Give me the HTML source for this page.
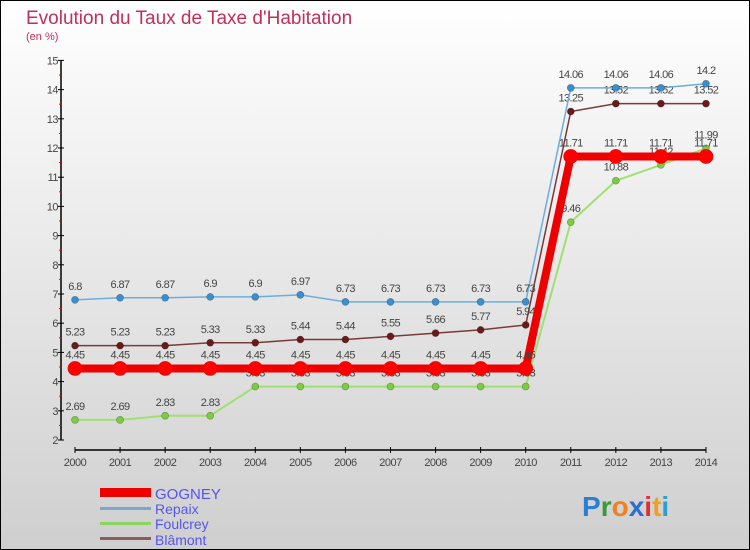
<!DOCTYPE html>
<html><head><meta charset="utf-8"><style>
body{margin:0}
svg{display:block;font-family:"Liberation Sans",sans-serif}
</style></head><body>
<svg id="c" width="750" height="550">
<defs><linearGradient id="bg" x1="0" y1="0" x2="0" y2="1"><stop offset="0" stop-color="#ffffff"/><stop offset="1" stop-color="#cfcfcf"/></linearGradient></defs>
<rect x="0.5" y="0.5" width="749" height="549" fill="url(#bg)" stroke="#000"/>
<text x="26" y="24" font-size="19" fill="#c0305a">Evolution du Taux de Taxe d'Habitation</text>
<text x="26" y="40" font-size="11" fill="#c0305a">(en %)</text>
<g id="axes"></g><g id="series"></g>
<g>
<rect x="100" y="488" width="51" height="9" fill="#e00"/>
<text x="155" y="499" font-size="15" fill="#5555ee">GOGNEY</text>
<rect x="100" y="507" width="51" height="3" fill="#7aa7cc"/>
<text x="155" y="514" font-size="14" fill="#5555ee">Repaix</text>
<rect x="100" y="522" width="51" height="3" fill="#8fd460"/>
<text x="155" y="529" font-size="14" fill="#5555ee">Foulcrey</text>
<rect x="100" y="537" width="51" height="3" fill="#8a5c5c"/>
<text x="155" y="545" font-size="14" fill="#5555ee">Blâmont</text>
</g>
<text x="582" y="516" font-size="28" font-weight="bold"><tspan fill="#2a7fd0">P</tspan><tspan fill="#3a9a3a">r</tspan><tspan fill="#f08020">o</tspan><tspan fill="#2a6fd0">x</tspan><tspan fill="#e03030">i</tspan><tspan fill="#f0a020">t</tspan><tspan fill="#2a9fd0">i</tspan></text>
</svg>
<script>
const years=["2000","2001","2002","2003","2004","2005","2006","2007","2008","2009","2010","2011","2012","2013","2014"];
const yTicks=[2,3,4,5,6,7,8,9,10,11,12,13,14,15];
const gogney=[4.45,4.45,4.45,4.45,4.45,4.45,4.45,4.45,4.45,4.45,4.45,11.71,11.71,11.71,11.71];
const repaix=[6.8,6.87,6.87,6.9,6.9,6.97,6.73,6.73,6.73,6.73,6.73,14.06,14.06,14.06,14.2];
const foulcrey=[2.69,2.69,2.83,2.83,3.83,3.83,3.83,3.83,3.83,3.83,3.83,9.46,10.88,11.42,11.99];
const blamont=[5.23,5.23,5.23,5.33,5.33,5.44,5.44,5.55,5.66,5.77,5.94,13.25,13.52,13.52,13.52];
const NS="http://www.w3.org/2000/svg";
const X=i=>75+i*45.07, Y=v=>440-(v-2)*29.2;
function mk(t,a,p){const e=document.createElementNS(NS,t);for(const k in a)e.setAttribute(k,a[k]);p.appendChild(e);return e;}
const ax=document.getElementById('axes');
let l=mk('line',{x1:61,y1:Y(15),x2:61,y2:Y(2),stroke:'#000','stroke-width':1.5},ax);


l=mk('line',{x1:X(0),y1:450,x2:X(14),y2:450,stroke:'#000','stroke-width':1.5},ax);


yTicks.forEach(v=>{
 mk('line',{x1:58,y1:Y(v),x2:64,y2:Y(v),stroke:'#000'},ax);
 if(v<15)mk('line',{x1:59,y1:Y(v+0.5),x2:62,y2:Y(v+0.5),stroke:'#e00'},ax);
 const t=mk('text',{x:58,y:Y(v)+4,'font-size':11,fill:'#444','text-anchor':'end','letter-spacing':'-0.5'},ax);t.textContent=v;
 
 
});
years.forEach((y,i)=>{
 mk('line',{x1:X(i),y1:447,x2:X(i),y2:453,stroke:'#000'},ax);
 const t=mk('text',{x:X(i),y:466,'font-size':11,fill:'#444','text-anchor':'middle','letter-spacing':'-0.5'},ax);t.textContent=y;
 
 
});
const sg=document.getElementById('series');
function series(name,d,lc,lw,pc,r){
 const g=mk('g',{},sg);
 
 
 mk('polyline',{points:d.map((v,i)=>X(i)+','+Y(v)).join(' '),fill:'none',stroke:lc,'stroke-width':lw},g);
 d.forEach((v,i)=>{
  const c=mk('circle',{cx:X(i),cy:Y(v),r:r,fill:pc,stroke:lc==='#e00'?'#e00':'rgba(0,0,0,0.3)','stroke-width':0.7},g);
  
  
  const t=mk('text',{x:X(i),y:Y(v)-10,'font-size':11,fill:'#444','text-anchor':'middle','letter-spacing':'-0.6'},g);t.textContent=v;
  
  
 });
}
series('foulcrey',foulcrey,'#9fe070',2,'#7ccc40',3.5);
series('blamont',blamont,'#7a3a3a',1.5,'#6a1a1a',3.5);
series('repaix',repaix,'#6aaee0',1.5,'#3a8fd0',3.5);
series('gogney',gogney,'#e00',8,'#f00',7);
</script>
</body></html>
